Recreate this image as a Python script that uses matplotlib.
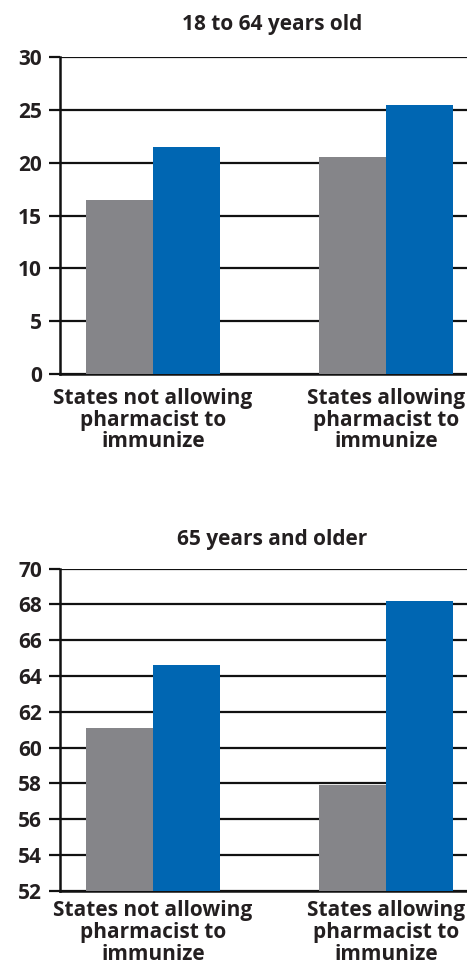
import matplotlib.pyplot as plt
import numpy as np

plt.rcParams['font.family'] = ['Open Sans', 'DejaVu Sans']
plt.rcParams['font.weight'] = 'bold'

# Data
categories = ['States not allowing\npharmacist to\nimmunize',
              'States allowing\npharmacist to\nimmunize']
young_gray = [16.5, 20.5]
young_blue = [21.5, 25.5]
old_gray = [61.1, 57.9]
old_blue = [64.6, 68.2]

titles = ['18 to 64 years old', '65 years and older']
ylims = [(0, 30), (52, 70)]
yticks = [np.arange(0, 31, 5), np.arange(52, 71, 2)]

gray = '#858589'
blue = '#0066b2'

fig = plt.figure(figsize=(4.67, 9.66), dpi=100)
ax1 = fig.add_axes([0.1285, 0.6128, 0.8715, 0.3282])
ax2 = fig.add_axes([0.1285, 0.0780, 0.8715, 0.3333])

x = np.arange(len(categories))
w = 0.2876

for ax, g, b, ttl, yl, yt, ty, pd in zip([ax1, ax2], [young_gray, old_gray],
                                         [young_blue, old_blue], titles, ylims, yticks,
                                         [0.975, 0.442], [10, 7]):
    ax.bar(x - w / 2, [v - yl[0] for v in g], w, bottom=yl[0], color=gray, zorder=3)
    ax.bar(x + w / 2, [v - yl[0] for v in b], w, bottom=yl[0], color=blue, zorder=3)
    ax.set_xlim(-0.399, 1.348)
    ax.set_ylim(*yl)
    ax.set_yticks(yt)
    ax.yaxis.grid(True, color='#111111', linewidth=1.6, zorder=1)
    ax.set_axisbelow(True)
    for s in ['top', 'right']:
        ax.spines[s].set_visible(False)
    ax.spines['left'].set_linewidth(1.8)
    ax.spines['bottom'].set_linewidth(1.8)
    ax.spines['left'].set_color('#111111')
    ax.spines['bottom'].set_color('#111111')
    ax.tick_params(axis='y', length=8, width=1.6, color='#111111', pad=5,
                   labelsize=15)
    for lab in ax.get_yticklabels():
        lab.set_fontweight('bold')
        lab.set_color('#231f20')
    ax.set_xticks(x)
    ax.set_xticklabels(categories, fontsize=15, color='#231f20', linespacing=1.04,
                       fontweight='bold')
    ax.tick_params(axis='x', length=0, pad=pd)
    fig.text(0.582, ty, ttl, ha='center', va='center', fontsize=15,
             fontweight='bold', color='#231f20')

plt.savefig('out.png', dpi=100)
